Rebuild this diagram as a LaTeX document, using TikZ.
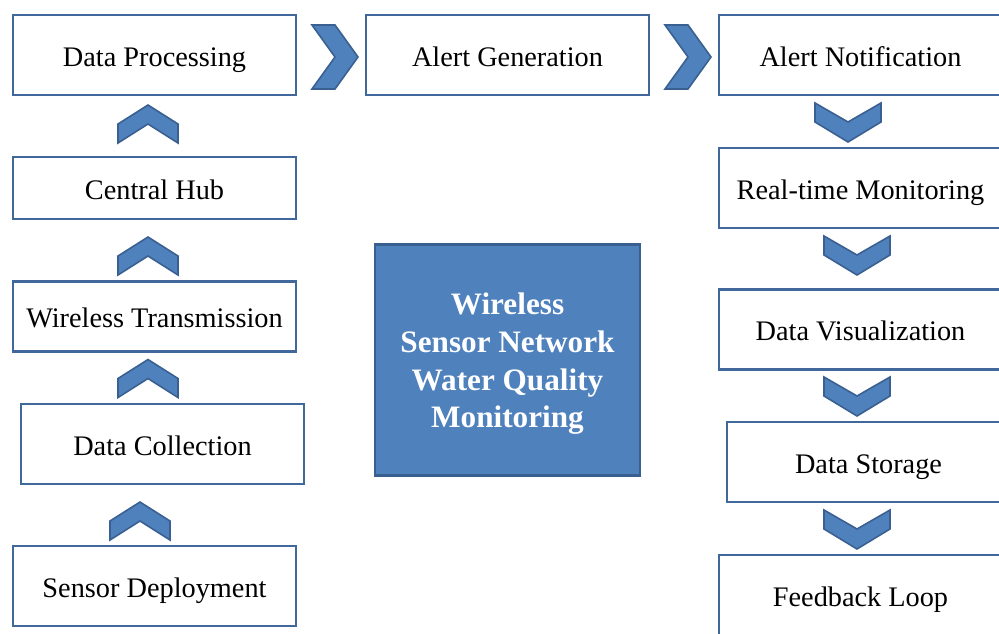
\documentclass[tikz,border=0pt]{standalone}
\usepackage{fontspec}
\setmainfont{Liberation Serif}
\definecolor{boxline}{HTML}{41689B}
\definecolor{chevfill}{HTML}{4F81BD}
\definecolor{chevline}{HTML}{3A6091}
\tikzset{
  stepbox/.style={draw=boxline, line width=2.4pt, fill=white, rectangle,
    minimum width=283pt, minimum height=80pt, inner sep=0pt,
    text height=22pt, text depth=0pt,
    font=\fontsize{28.3}{32}\selectfont, text=black},
  hubbox/.style={draw=chevline, line width=2.4pt, fill=chevfill, rectangle,
    minimum width=265pt, minimum height=231pt, inner sep=0pt},
  hubtext/.style={align=center, inner sep=0pt,
    font=\fontsize{31.2}{37.7}\selectfont\bfseries, text=white},
  chev/.style={fill=chevfill, draw=chevline, line width=1.6pt, line join=miter},
  upchev/.pic={\path[chev] (0,-19) -- (30,0) -- (30,19) -- (0,0) -- (-30,19) -- (-30,0) -- cycle;},
  downchev/.pic={\path[chev] (0,20) -- (33,0) -- (33,-19) -- (0,0) -- (-33,-19) -- (-33,0) -- cycle;},
  rightchev/.pic={\path[chev] (-23,-32) -- (0,-32) -- (23,0) -- (0,32) -- (-23,32) -- (0,0) -- cycle;}
}
\begin{document}
\begin{tikzpicture}[x=1pt, y=-1pt]
\useasboundingbox (0,0) rectangle (999,633);
% left column
\node[stepbox] (dp) at (154.5,55) {Data Processing};
\node[stepbox, minimum height=62pt] (ch) at (154.5,188) {Central Hub};
\node[stepbox, minimum height=70pt] (wt) at (154.5,316.5) {Wireless Transmission};
\node[stepbox] (dc) at (162.5,444) {Data Collection};
\node[stepbox] (sd) at (154.5,586) {Sensor Deployment};
% top row
\node[stepbox] (ag) at (507.5,55) {Alert Generation};
\node[stepbox] (an) at (860.5,55) {Alert Notification};
% right column
\node[stepbox] (rt) at (860.5,188) {Real-time Monitoring};
\node[stepbox] (dv) at (860.5,329.5) {Data Visualization};
\node[stepbox] (ds) at (868.5,462) {Data Storage};
\node[stepbox] (fl) at (860.5,595) {Feedback Loop};
% centre
\node[hubbox] (hub) at (507.5,360) {};
\node[hubtext] (hubt) at (507.5,364) {Wireless\\Sensor Network\\Water Quality\\Monitoring};
% chevrons
\pic at (148,124) {upchev};
\pic at (148,256) {upchev};
\pic at (148,378.5) {upchev};
\pic at (140,521) {upchev};
\pic at (335,57) {rightchev};
\pic at (688,57) {rightchev};
\pic at (848,122) {downchev};
\pic at (857,255) {downchev};
\pic at (857,396) {downchev};
\pic at (857,529) {downchev};
\end{tikzpicture}
\end{document}
